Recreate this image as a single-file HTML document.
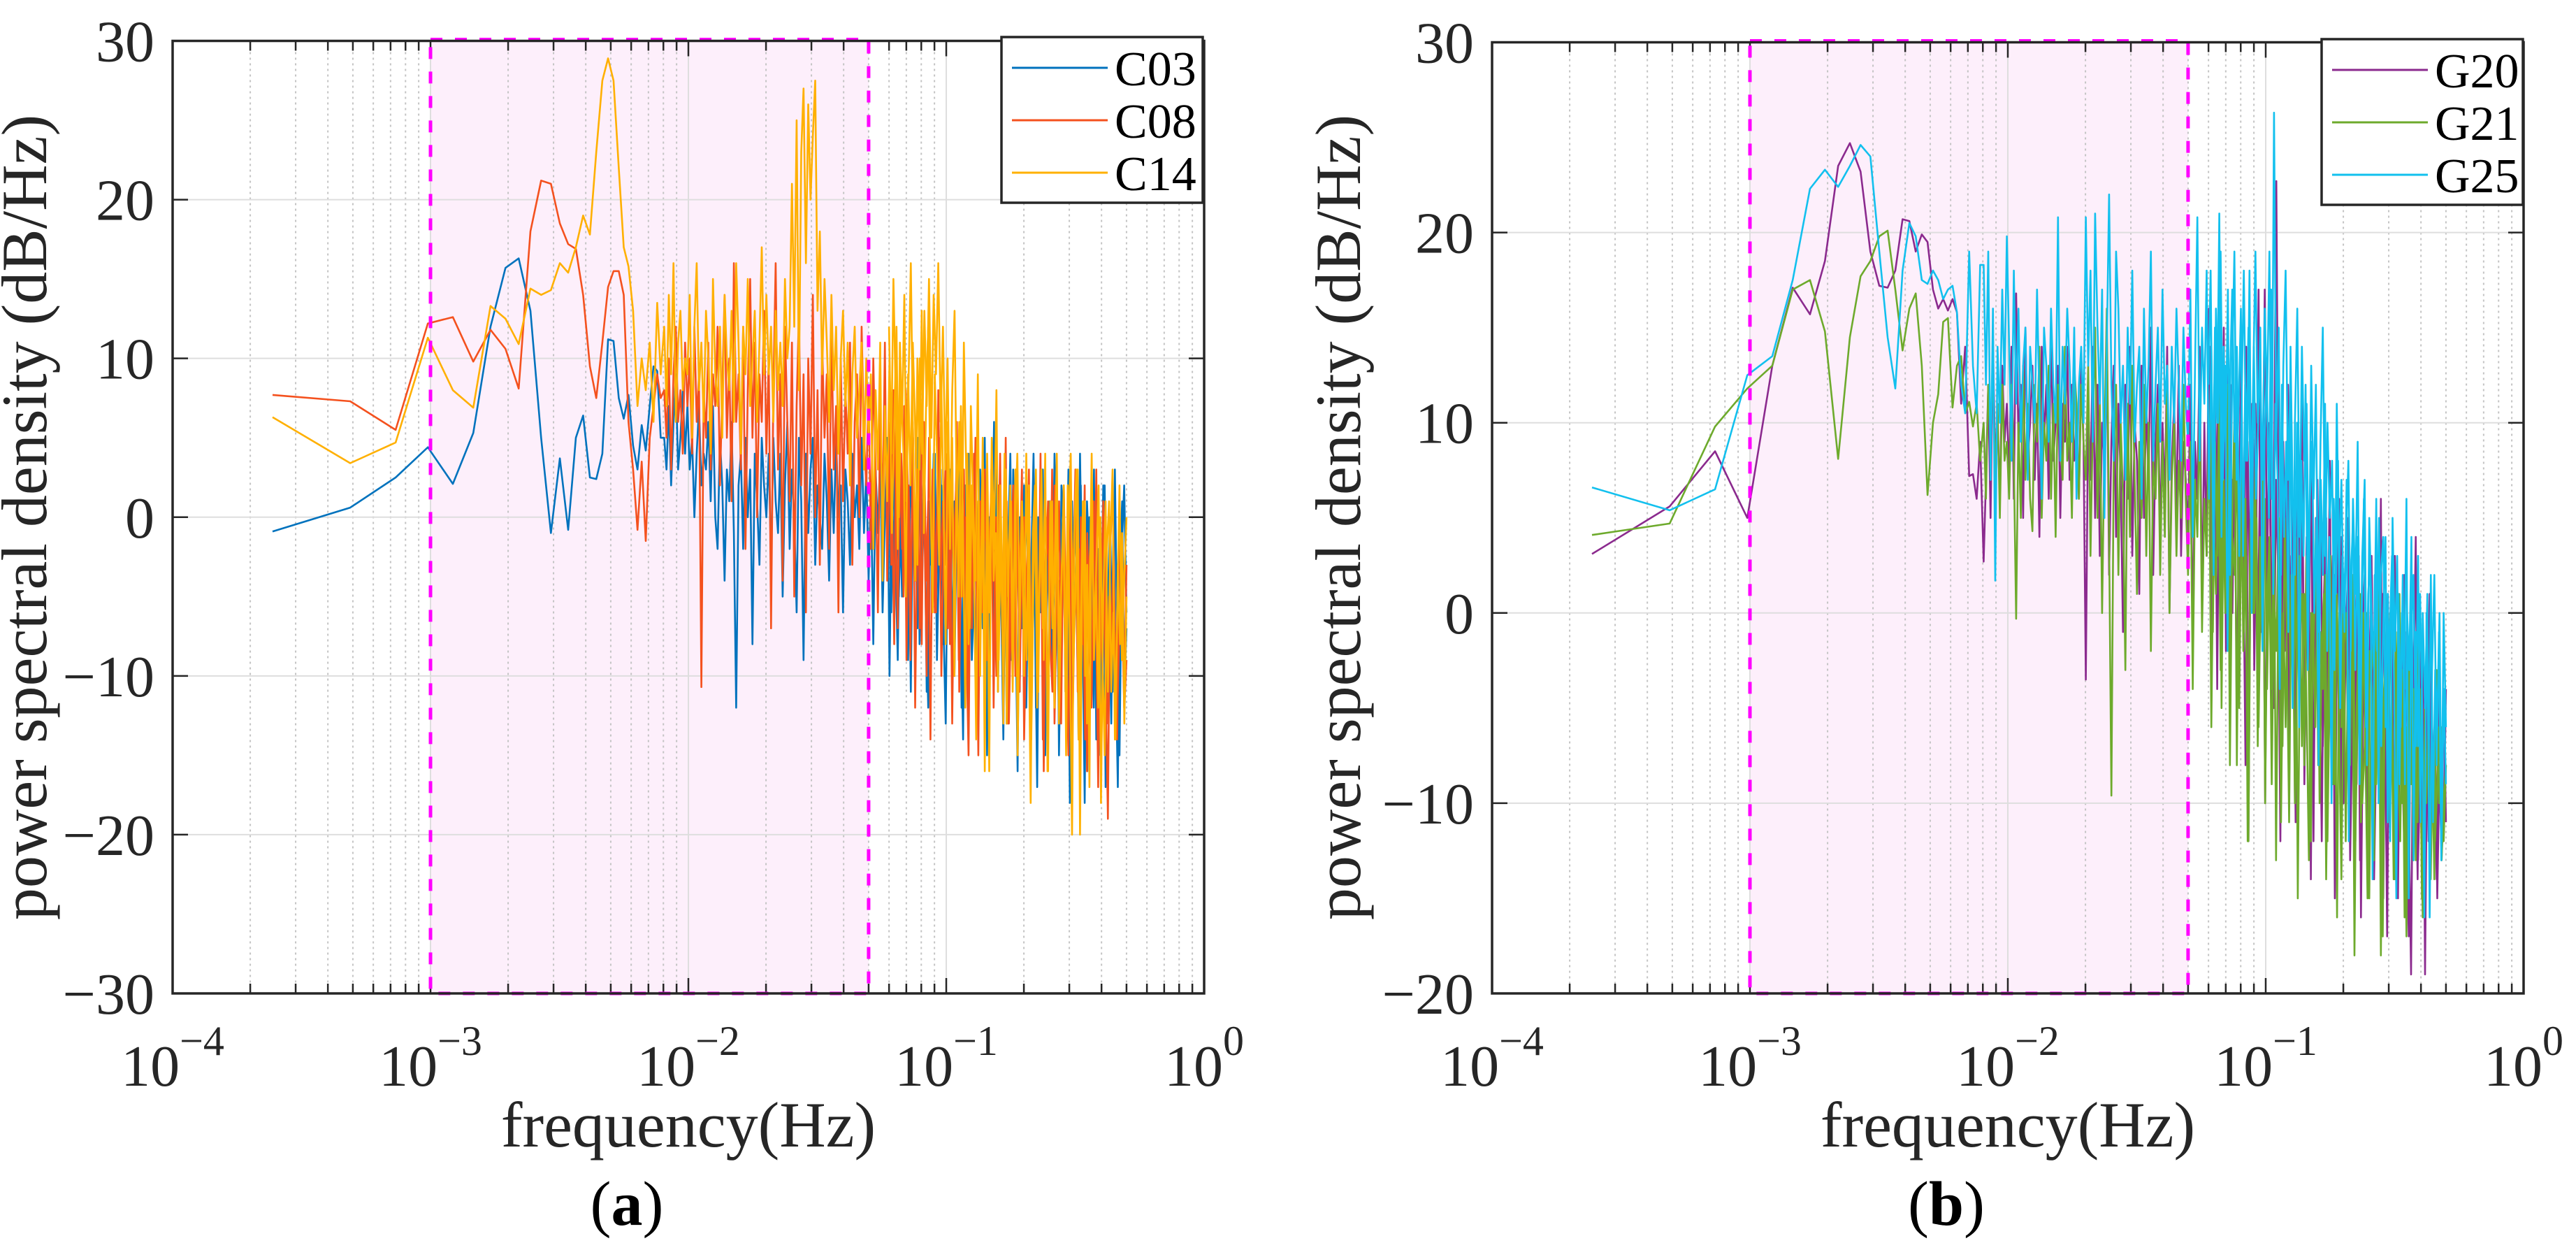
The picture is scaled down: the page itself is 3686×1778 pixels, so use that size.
<!DOCTYPE html>
<html><head><meta charset="utf-8"><style>
html,body{margin:0;padding:0;background:#fff;}
svg{display:block;font-family:"Liberation Serif","DejaVu Serif",serif;}
</style></head><body>
<svg id="fig" width="3686" height="1778" viewBox="0 0 3686 1778" xmlns="http://www.w3.org/2000/svg"></svg>
<script>
// ---------- DATA ----------
const xTickExps = [-4, -3, -2, -1, 0];
const yTicksA = [30, 20, 10, 0, -10, -20, -30];
const yTicksB = [30, 20, 10, 0, -10, -20];
const bandLow = 0.001;
const bandHigh = 0.05;
const denseStart = 0.06;
const seriesNamesA = ["C03", "C08", "C14"];
const seriesNamesB = ["G20", "G21", "G25"];
// low-frequency bins k=1..32 (f = k/4096)
const c03Low = [-0.9,0.6,2.5,4.4,2.1,5.3,12,15.7,16.3,13,5,-1,3.7,-0.8,5,6.4,2.5,2.4,4,11.2,11.1,7.5,6.2,7.7,4.5,3,5.8,4.2,7,9.5,9.2,5];
const c08Low = [7.7,7.3,5.5,12.2,12.6,9.8,11.8,10.6,8.1,18,21.2,21,18.5,17.2,16.9,14,9.5,7.5,11,14.5,15.5,15.5,14,6,3,-0.8,3.5,-1.5,5,7,9,7.5];
const c14Low = [6.3,3.4,4.7,11.3,8,6.9,13.3,12.5,10.9,14.4,14,14.3,16,15.4,17,19,17.8,23,27.5,28.9,27.5,22,17,15.8,13,7,10,8,11,6,13.5,9];
const g20Low = [3.1,5.6,8.5,5,13,17.1,15.7,18.5,23.5,24.7,23.2,19,17.2,17.1,18,20.7,20.6,19,19.9,19.5,17,16,16.5,15.9,16.5,15.8,11,14,7.2,7.3,6,9];
const g21Low = [4.1,4.7,9.8,11.8,13,17,17.5,14.8,8.1,14.5,17.7,18.5,19.8,20.1,17,13.8,16,16.8,13,6.2,10,11.5,15.3,15.5,10.8,13,13.5,10.5,11.1,9.8,11,8];
const g25Low = [6.6,5.4,6.5,12.5,13.5,17.5,22.3,23.3,22.4,23.5,24.6,24,19,14.5,11.8,18,20.5,19.8,17.5,17.3,18,17.5,16.5,17,17.2,15.8,12,10.5,19,13,10.5,18.3];
// tail values, sampled log-uniformly from bin 33 to 0.5 Hz
const c03Tail = [5,3,7,2,6,9,3,5,8,4,
7,3,5,0,4,7,2,4,3,6,1,7,0,-2,5,2,-4,3,1,6,-1,-12,2,4,-2,5,0,3,-8,4,1,-3,5,2,
0,4,-3,5,1,-1,4,-5,2,6,-2,3,0,-6,5,1,-9,4,-1,3,5,-3,2,0,-2,4,1,-4,3,-1,5,0,2,-6,3,1,-3,4,0,2,-2,5,-1,3,
-4,2,-8,3,-1,4,-6,0,5,-10,2,-3,6,-5,1,-2,4,-9,3,-1,0,-7,5,-4,2,-11,1,-3,4,-6,0,3,-8,2,
-5,3,-9,1,-3,5,-12,0,-4,4,-7,2,-10,-1,3,-6,5,-13,0,-3,6,-8,2,-5,-14,1,-2,4,-9,-1,3,-11,0,-6,
2,-8,-3,4,-12,0,-6,3,-15,-2,1,-9,4,-5,-13,2,-1,-7,3,-16,-4,0,-10,4,-6,-18,1,-3,-9,3,-14,-2,-7,2,-17,-5,0,-11,3,-8,-15,-2,2,-6];
const c08Tail = [8,5,10,3,9,12,6,8,4,11,
7,10,4,12,6,9,-10.7,8,5,11,3,9,7,12,2,8,14,5,10,1,16,6,9,3,12,-2,8,15,5,11,0,9,6,13,
4,10,-7,8,16,3,9,-4,12,6,1,11,-5,7,13,2,9,-6,10,4,14,0,8,-3,11,5,9,-2,12,3,7,-6,10,1,8,4,11,-3,6,9,0,12,5,2,
8,-2,10,3,-6,7,0,11,-4,5,2,-8,9,-1,4,-5,8,1,-9,6,-3,3,-7,7,0,-10,5,-2,2,-6,8,-4,1,-3,
4,-8,2,-5,6,-11,0,3,-7,-15,1,-4,5,-9,-2,3,-12,0,-6,4,-3,-10,2,-1,-8,5,-13,-3,1,-7,3,-11,-2,0,
-6,3,-12,-1,2,-9,4,-14,-3,0,-8,3,-13,-5,1,-10,2,-7,-15,0,-4,3,-11,-2,-8,2,-16,-3,0,-9,3,-13,-6,1,-10,-19,-2,2,-7,-14,0,-5,-12,-3];
const c14Tail = [12,7,14,9,16,6,11,13,8,10,
9,14,5,12,16,8,11,6,13,10,4,15,9,7,12,5,14,10,8,13,6,16,11,4,12,9,15,7,10,13,6,11,17,9,
14,9,12,6,13,8,11,7,15,10,12,21,12,25,8,23,27,16,26,20,24,27.5,13,18,9,15,11,6,14,8,12,4,10,13,7,11,2,9,12,5,8,11,3,10,
5,9,-2,8,3,11,-4,7,1,10,-1,6,12,0,8,4,-5,9,2,11,6,-3,10,4,13,7,15,5,14,9,16,6,12,3,
10,-2,8,13,0,6,-5,11,3,-8,7,1,-4,9,-10,2,-16,4,-6,5,-2,8,-9,0,-13,3,-5,2,-11,-1,4,-7,1,-3,
-9,2,-14,-4,3,-11,0,-7,4,-16,-2,1,-12,3,-8,-4,2,-15,-1,4,-10,-5,3,-20,-2,1,-13,-6,4,-9,-3,2,-18,-5,1,-11,-2,3,-14,-6,2,-9,-4,0];
const g20Tail = [2.7,7,12,5,14,8,10,6,13,9,
11,7,14,6,16.8,9,12,5,15,8,10,13,7,11,4,14,9,12,6,15,8,10,13,5,11,9,14,7,12,8,10,6,13,9,
-3.5,11,7,14,5,12,3,10,8,15,2,9,13,4,11,7,-1,12,6,14,3,10,8,1,13,5,11,7,15,2,9,12,4,10,6,14,0,8,11,5,13,3,9,7,
4,12,-2,9,6,14,0,10,3,16,-4,8,5,13,-1,11,2,15,-6,7,4,12,-3,9,1,14,-12,6,3,11,-2,8,5,17,
2,10,-5,7,22.7,3,-8,9,0,12,-3,6,-10,8,1,11,-6,4,-2,9,-12,5,0,7,-7,3,-4,8,-9,2,-1,6,-11,1,
-3,5,-10,0,-6,4,-13,-1,2,-8,-4,3,-12,0,-6,6,-15,-2,1,-9,-5,3,-14,-1,-7,2,-11,-17,0,-4,4,-13,-8,-2,-19,-5,1,-10,-6,-14,-2,-9,-12,-4];
const g21Tail = [10,6,12,9,13,7,11,5,12,8,
9,6,12,8,-0.3,10,5,13,7,11,6,4.3,12,9,14,5,10,8,13,6,11,4,12,9,7,14,8,10,5,13,11,6,12,9,
7,13,3,10,15,5,11,0,9,16,4,-9.6,8,12,2,10,6,-3,11,4,13,7,1,9,5,12,3,10,-2,8,6,11,2,9,4,13,0,7,10,3,8,5,12,6,
2,9,-4,7,4,11,-1,6,3,10,-6,5,1,8,-3,7,0,12,-8,4,2,9,-5,6,-1,3,-12,5,0,8,-7,4,-2,6,
-4,3,-9,1,-2,5,-11,0,-6,4,-3,2,-10,-1,3,-7,1,-5,-13,0,-2,4,-8,-1,-4,2,-12,-3,0,-9,1,-6,-14,-2,
0,-8,-3,2,-12,-5,1,-10,-7,0,-15,-3,-1,-9,2,-18,-5,-2,-11,0,-7,-14,-3,1,-10,-6,-17,-2,-9,-4,-13,0,-8,-16,-5,-2,-11,-7,-14,-3,-10,-6,-12,-8];
const g25Tail = [18.3,12,19,7,16,1.7,14,10,17,12,
19.8,14,8,18,11,16,9,13,15,7,14,12,10,17,11,6,15,13,9,16,12,10,20.8,8,14,11,16,13,9,15,6,12,14,10,
20.8,13,18,9,21,15,11,17,5,14,22,12,8,19,16,10,13,7,15,11,18,9,12,14,6,16,10,13,19,8,12,15,9,17,11,13,7,14,10,16,12,8,15,11,
9,17,4,13,20.8,8,15,11,18,6,14,2,16,10,19,7,13,-2,12,17,9,14,3,11,18,8,15,5,12,19,10,13,7,16,
11,19,6,26.3,9,15,2,13,18,7,12,-5,10,16,4,14,8,11,1,13,6,12,-1,9,15,3,10,5,8,-3,11,2,7,0,
4,8,-2,6,1,9,-5,3,7,-8,5,0,-3,6,-10,2,4,-6,1,-12,5,-2,3,-9,0,-4,6,-15,-1,2,-7,3,-11,0,-5,1,-16,-3,2,-8,-1,-13,0,-6];
// extra high-frequency samples (0.06–0.5 Hz, log-uniform) for the dense band
const c03Dense = [2,-6,4,-3,-9,1,-5,3,-7,0,-11,2,-4,5,-8,-1,3,-6,-12,1,-3,4,-9,-2,2,-7,-13,0,-4,3,-10,-1,4,-6,-14,2,-3,1,-9,-5,3,-12,0,-7,2,-15,-4,1,-8,3,-11,-2,-6,2,-13,-1,-9,3,-5,-16,0,-7,2,-12,-3,-10,1,-6,-17,-2,3,-9,-4,-13,1,-8,-3,2,-15,-6,0,-11,-4,-18,1,-7,-2,-14,2,-9,-5,-16,0,-3,-12,1,-8,-15,-4,2,-10,-6,-13,0,-9,-17,-3,1,-11,-7];
const c08Dense = [6,-3,8,1,-7,4,-2,7,-9,2,-5,5,-12,0,3,-8,6,-4,1,-14,3,-6,0,5,-10,-2,4,-7,2,-13,-1,3,-9,5,-5,0,-11,2,-7,4,-3,-15,1,-6,3,-9,-2,2,-12,0,-5,4,-8,-3,1,-13,-6,2,-10,0,-4,3,-14,-7,1,-9,-2,2,-12,-5,0,-16,-3,1,-8,-11,2,-6,-4,-13,0,-9,-2,1,-15,-7,-3,-11,0,-5,-14,-1,-8,-12,1,-6,-17,-3,-10,0,-13,-5,-8,-2,-14,-11,-6,-1,-12,-9];
const c14Dense = [12,4,15,8,-2,11,6,14,1,9,16,5,-4,10,3,13,-1,7,12,2,-6,9,4,-3,8,1,-8,6,-2,5,-10,3,-5,7,-1,-12,4,-7,2,-3,-14,1,-6,5,-9,0,-16,3,-4,-1,-11,2,-7,4,-13,-2,1,-8,3,-15,-5,0,-10,4,-6,-18,-1,2,-12,-4,3,-9,-2,-16,1,-7,-3,4,-13,-5,0,-11,2,-8,-20,-1,3,-14,-6,1,-10,-3,-17,2,-7,-4,-12,0,-9,-15,-2,1,-11,-6,-14,-3,-8,-1,-13,-5];
const g20Dense = [8,14,2,11,-4,9,5,15,-2,7,12,0,10,-6,6,13,3,-8,9,1,11,-3,5,17,-1,8,-10,4,10,0,-5,7,2,-12,6,-2,9,-7,3,1,-11,5,-4,8,-9,0,4,-14,2,-6,7,-3,-12,1,5,-8,-2,3,-15,0,-5,4,-10,-1,2,-13,-6,1,-9,3,-16,-4,0,-11,-2,2,-14,-7,-1,-12,1,-5,-17,-3,0,-10,-6,-15,-2,-8,-13,-1,-11,-19,-4,-7,-14,-2,-9,-16,-5,-12,-3,-10,-6,-15,-8,-13,-4,-11];
const g21Dense = [6,12,-1,9,3,13,-5,7,1,10,-3,5,11,-8,4,8,-2,6,-12,3,9,0,5,-6,2,7,-10,1,4,-4,6,-13,0,3,-7,5,-2,-11,2,-5,4,-15,-1,1,-8,3,-3,-12,0,-6,2,-10,-2,1,-14,-4,3,-9,-1,-16,0,-6,2,-12,-3,-8,1,-18,-5,-1,-11,0,-7,-15,-2,-4,-13,1,-9,-6,-17,-3,0,-10,-5,-14,-1,-8,-12,-3,-16,-6,-9,-2,-13,-7,-11,-4,-15,-8,-10,-5,-14,-7,-12,-9,-6,-13,-10,-8];
const g25Dense = [12,18,6,15,10,21,4,14,9,17,2,13,19,7,11,16,3,12,8,18,0,14,6,10,15,-2,9,13,5,17,1,11,7,-4,12,4,9,-1,14,6,2,10,-6,8,3,12,-3,6,9,0,5,-8,7,2,11,-2,4,-10,6,1,8,-5,3,-1,7,-12,2,5,-3,4,-9,0,6,-6,1,3,-14,2,-2,5,-7,0,4,-11,-1,3,-4,-15,1,-6,2,-9,0,-3,4,-13,-1,-7,1,-5,-16,0,-8,2,-11,-3,-6,0,-12,-4,-9];

// ---------- DRAWING ----------
const NS = "http://www.w3.org/2000/svg";
const svg = document.getElementById("fig");
function mk(tag, attrs, parent) {
  const e = document.createElementNS(NS, tag);
  for (const k in attrs) e.setAttribute(k, attrs[k]);
  (parent || svg).appendChild(e);
  return e;
}
function toPoints(low, tail) {
  const pts = [];
  for (let i = 0; i < low.length; i++) pts.push([(i + 1) / 4096, low[i]]);
  const l0 = Math.log10((low.length + 1) / 4096), l1 = Math.log10(0.5);
  for (let i = 0; i < tail.length; i++) pts.push([Math.pow(10, l0 + (l1 - l0) * i / (tail.length - 1)), tail[i]]);
  return pts;
}
function densePoints(vals) {
  const l0 = Math.log10(denseStart), l1 = Math.log10(0.5), pts = [];
  for (let i = 0; i < vals.length; i++) pts.push([Math.pow(10, l0 + (l1 - l0) * i / (vals.length - 1)), vals[i]]);
  return pts;
}
function panel(cfg) {
  const g = mk("g", {});
  
  
  const L = cfg.L, R = cfg.R, T = cfg.T, B = cfg.B;
  const xs = f => L + (Math.log10(f) + 4) / 4 * (R - L);
  const ys = v => T + (cfg.yMax - v) / (cfg.yMax - cfg.yMin) * (B - T);
  const band = mk("rect", {x: xs(bandLow), y: T, width: xs(bandHigh) - xs(bandLow), height: B - T, fill: "#fdeffb"}, g);
  
  
  const grid = mk("g", {}, g);
  
  
  for (let e = -4; e < 0; e++) {
    for (let m = 2; m <= 9; m++) {
      const x = xs(m * Math.pow(10, e));
      mk("line", {x1: x, x2: x, y1: T, y2: B, stroke: "#c4c4c4", "stroke-width": 2, "stroke-dasharray": "3 5"}, grid);
      mk("line", {x1: x, x2: x, y1: T, y2: T + 14, stroke: "#262626", "stroke-width": 2.5}, grid);
      mk("line", {x1: x, x2: x, y1: B, y2: B - 14, stroke: "#262626", "stroke-width": 2.5}, grid);
    }
  }
  xTickExps.forEach(e => {
    const x = xs(Math.pow(10, e));
    mk("line", {x1: x, x2: x, y1: T, y2: B, stroke: "#dedede", "stroke-width": 2}, grid);
    mk("line", {x1: x, x2: x, y1: T, y2: T + 22, stroke: "#262626", "stroke-width": 2.5}, grid);
    mk("line", {x1: x, x2: x, y1: B, y2: B - 22, stroke: "#262626", "stroke-width": 2.5}, grid);
    const t = mk("text", {x: x, y: 1553, "font-size": 84, "text-anchor": "middle", fill: "#262626"}, g);
    
    
    const a = mk("tspan", {}, t); a.textContent = "10";
    const b = mk("tspan", {dy: -44, "font-size": 60}, t); b.textContent = "\u2212" + (-e);
    if (e === 0) b.textContent = "0";
  });
  cfg.yTicks.forEach(v => {
    const y = ys(v);
    mk("line", {x1: L, x2: R, y1: y, y2: y, stroke: "#dedede", "stroke-width": 2}, grid);
    mk("line", {x1: L, x2: L + 22, y1: y, y2: y, stroke: "#262626", "stroke-width": 2.5}, grid);
    mk("line", {x1: R, x2: R - 22, y1: y, y2: y, stroke: "#262626", "stroke-width": 2.5}, grid);
    const t = mk("text", {x: L - 26, y: y + 29, "font-size": 84, "text-anchor": "end", fill: "#262626"}, g);
    
    
    t.textContent = (v < 0 ? "\u2212" + (-v) : "" + v);
  });
  const pathOf = pts => pts.map((p, i) => (i ? "L" : "M") + xs(p[0]).toFixed(1) + " " + ys(p[1]).toFixed(1)).join("");
  cfg.series.forEach(s => {
    const p = mk("path", {d: pathOf(toPoints(s.low, s.tail)), fill: "none", stroke: s.color, "stroke-width": 2.6, "stroke-linejoin": "round"}, g);
    
    
    const q = mk("path", {d: pathOf(densePoints(s.dense)), fill: "none", stroke: s.color, "stroke-width": 2.6, "stroke-linejoin": "round"}, g);
    
    
  });
  const bo = mk("rect", {x: xs(bandLow), y: T - 2, width: xs(bandHigh) - xs(bandLow), height: B - T + 2, fill: "none", stroke: "#ff00ff", "stroke-width": 5, "stroke-dasharray": "17 18"}, g);
  
  
  const fr = mk("rect", {x: L, y: T, width: R - L, height: B - T, fill: "none", stroke: "#262626", "stroke-width": 3.5}, g);
  
  
  const lg = mk("g", {}, g);
  
  
  mk("rect", {x: cfg.legX, y: cfg.legY, width: 288, height: 237, fill: "#fff", stroke: "#262626", "stroke-width": 3.5}, lg);
  cfg.series.forEach((s, i) => {
    const y = cfg.legY + 44 + i * 75;
    const en = mk("g", {}, lg);
    
    
    mk("line", {x1: cfg.legX + 15, x2: cfg.legX + 152, y1: y, y2: y, stroke: s.color, "stroke-width": 3}, en);
    const t = mk("text", {x: cfg.legX + 162, y: y + 25, "font-size": 70, fill: "#000"}, en);
    t.textContent = s.label;
  });
  const xl = mk("text", {x: (L + R) / 2, y: 1640, "font-size": 92, "text-anchor": "middle", fill: "#262626"}, g);
  
  
  xl.textContent = "frequency(Hz)";
  const yl = mk("text", {x: 0, y: 0, "font-size": 92, "text-anchor": "middle", fill: "#262626", transform: "translate(" + cfg.ylX + "," + cfg.ylY + ") rotate(-90)"}, g);
  
  
  yl.textContent = "power spectral density (dB/Hz)";
  const cap = mk("text", {x: (L + R) / 2 - 88, y: 1752, "font-size": 90, "text-anchor": "middle", fill: "#000"}, g);
  
  
  const c1 = mk("tspan", {}, cap); c1.textContent = "(";
  const c2 = mk("tspan", {"font-weight": "bold"}, cap); c2.textContent = cfg.cap;
  const c3 = mk("tspan", {}, cap); c3.textContent = ")";
}
panel({name: "panel-a", L: 247, R: 1723, T: 58.5, B: 1421, yMax: 30, yMin: -30, yTicks: yTicksA,
  legX: 1433, legY: 53, ylX: 66, ylY: 740, cap: "a",
  series: [
    {label: seriesNamesA[0], color: "#0072BD", low: c03Low, tail: c03Tail, dense: c03Dense},
    {label: seriesNamesA[1], color: "#F4511E", low: c08Low, tail: c08Tail, dense: c08Dense},
    {label: seriesNamesA[2], color: "#FFB000", low: c14Low, tail: c14Tail, dense: c14Dense}
  ]});
panel({name: "panel-b", L: 2135, R: 3611, T: 60.5, B: 1421, yMax: 30, yMin: -20, yTicks: yTicksB,
  legX: 3322, legY: 56, ylX: 1946, ylY: 740, cap: "b",
  series: [
    {label: seriesNamesB[0], color: "#8B2A8E", low: g20Low, tail: g20Tail, dense: g20Dense},
    {label: seriesNamesB[1], color: "#6DAA2C", low: g21Low, tail: g21Tail, dense: g21Dense},
    {label: seriesNamesB[2], color: "#12C0EE", low: g25Low, tail: g25Tail, dense: g25Dense}
  ]});
</script>
</body></html>
